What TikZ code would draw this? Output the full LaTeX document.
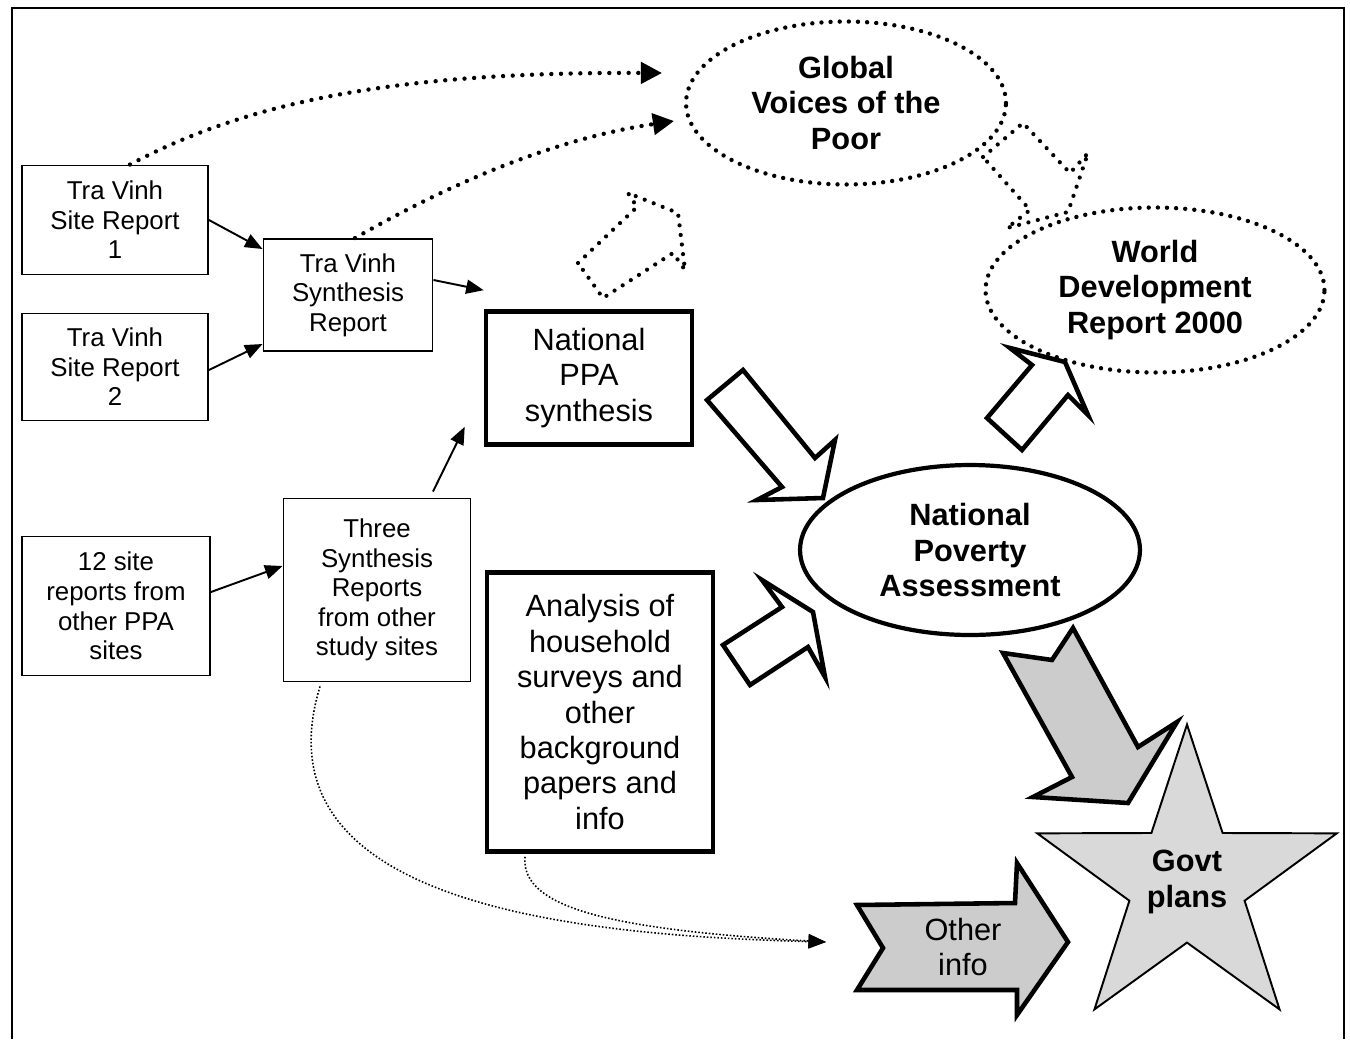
\documentclass[tikz,border=0pt]{standalone}
\usepackage{fontspec}
\setmainfont{Liberation Sans}
\usetikzlibrary{positioning, arrows.meta, shapes.geometric}

\begin{document}
\begin{tikzpicture}[
  x=0.02cm, y=-0.02cm,
  >={Triangle[length=10pt, width=8pt]},
  small/.style   ={font=\fontsize{14.7}{16.8}\selectfont},
  big/.style     ={font=\fontsize{17.5}{20.2}\selectfont},
  bigbold/.style ={font=\fontsize{17.5}{20.2}\selectfont\bfseries},
  box/.style     ={draw, line width=1.1pt, align=center, inner sep=2pt, small},
  bigbox/.style  ={draw, line width=2.6pt, align=center, inner sep=2pt, big},
  dotring/.style ={ellipse, draw, line width=2.5pt, dash pattern=on 0pt off 5.2pt, line cap=round, align=center, inner sep=0pt, bigbold},
  ring/.style    ={ellipse, draw, line width=2.4pt, align=center, inner sep=0pt, bigbold},
  arr/.style     ={->, line width=1.1pt},
  dotarr/.style  ={->, line width=2.5pt, dash pattern=on 0pt off 5.5pt, line cap=round, >={Triangle[length=12pt, width=12pt]}},
  finearr/.style ={->, line width=0.9pt, dash pattern=on 0.9pt off 1.1pt},
  block/.style   ={draw, line width=2.6pt, line join=miter, fill=white},
  dotblock/.style={draw, line width=2.4pt, dash pattern=on 0pt off 5.5pt, line cap=round},
  grayblock/.style={draw, line width=2.6pt, line join=miter, fill=black!20},
]
\useasboundingbox (0,0) rectangle (1350,1039);

% ---- frame ----
\draw[line width=1.6pt] (12,1039) -- (12,8) -- (1344,8) -- (1344,1039);

% ---- site reports (left column) ----
\node[box, minimum width=3.72cm, minimum height=2.18cm] (tv1) at (115,220) {Tra Vinh\\Site Report\\1};
\node[box, minimum width=3.72cm, minimum height=2.14cm] (tv2) at (115,367) {Tra Vinh\\Site Report\\2};
\node[box, minimum width=3.76cm, minimum height=2.78cm] (s12) at (116,606) {12 site\\reports from\\other PPA\\sites};

% ---- synthesis reports ----
\node[box, minimum width=3.38cm, minimum height=2.24cm] (tvsyn) at (348,295) {Tra Vinh\\Synthesis\\Report};
\node[box, minimum width=3.74cm, minimum height=3.66cm] (three) at (377,590) {Three\\Synthesis\\Reports\\from other\\study sites};

% ---- national boxes ----
\node[bigbox, minimum width=4.12cm, minimum height=2.66cm] (natppa) at (589,378) {National\\PPA\\synthesis};
\node[bigbox, minimum width=4.52cm, minimum height=5.58cm] (anal) at (600,712) {Analysis of\\household\\surveys and\\other\\background\\papers and\\info};

% ---- ellipses ----
\node[dotring, minimum width=6.4cm, minimum height=3.26cm] (gvp) at (846,103) {Global\\Voices of the\\Poor};
\node[dotring, minimum width=6.78cm, minimum height=3.3cm] (wdr) at (1155,290) {World\\Development\\Report 2000};
\node[ring, minimum width=6.8cm, minimum height=3.4cm] (npa) at (970,550) {National\\Poverty\\Assessment};

% ---- govt plans ----
\node[star, star points=5, star point ratio=2.6, minimum size=6.3cm, inner sep=0pt,
      draw, line width=1.1pt, fill=black!15, align=center, bigbold] (govt) at (1187,882) {Govt\\plans};

% ---- block arrows ----
\draw[block] (707,400) -- (743,370) -- (815,458) -- (835,440) -- (823,498) -- (757,500) -- (782,487) -- cycle;
\draw[block] (723,645) -- (782,607) -- (762,580) -- (813,612) -- (825,677) -- (808,647) -- (750,685) -- cycle;
\draw[block] (987,418) -- (1032,365) -- (1010,348) -- (1065,362) -- (1088,415) -- (1068,395) -- (1022,450) -- cycle;
\draw[dotblock] (578,263) -- (637,207) -- (628,193) -- (678,213) -- (685,270) -- (673,253) -- (603,298) -- cycle;
\draw[dotblock] (983,157) -- (1023,123) -- (1070,173) -- (1088,153) -- (1068,212) -- (1007,228) -- (1030,210) -- cycle;
\draw[grayblock] (1003,653) -- (1052,660) -- (1073,628) -- (1138,747) -- (1177,722) -- (1128,803) -- (1033,797) -- (1072,777) -- cycle;

% ---- other info ----
\draw[grayblock] (857,905) -- (1015,903) -- (1017,863) -- (1068,942) -- (1017,1015) -- (1017,990) -- (857,990) -- (883,948) -- cycle;
\node[big, align=center] (oinfo) at (963,947) {Other\\info};
\coordinate (oin) at (826,942);

% ---- connectors ----
\draw[arr] (tv1.east) -- ([yshift=0.92cm]tvsyn.west);
\draw[arr] ([yshift=-0.06cm]tv2.east) -- ([yshift=-0.98cm]tvsyn.west);
\draw[arr] ([yshift=0.3cm]tvsyn.east) -- ([yshift=0.38cm]natppa.north west);
\draw[arr] ([yshift=0.28cm]s12.east) -- ([yshift=0.48cm]three.west);
\draw[arr] ([xshift=1.12cm, yshift=0.12cm]three.north) -- ([xshift=-0.38cm, yshift=0.4cm]natppa.south west);

\coordinate (gvin1) at (662,73);
\coordinate (gvin2) at (674,121);
\draw[dotarr] ([xshift=0.3cm]tv1.north) .. controls (260,95) and (420,72) .. (gvin1);
\draw[dotarr] ([xshift=0.14cm]tvsyn.north) .. controls (460,178) and (560,138) .. (gvin2);

\draw[finearr] ([xshift=-1.14cm, yshift=-0.08cm]three.south) .. controls (255,900) and (560,935) .. (oin);
\draw[finearr] ([xshift=-1.5cm, yshift=-0.06cm]anal.south) .. controls (520,910) and (620,930) .. (oin);

\end{tikzpicture}
\end{document}
